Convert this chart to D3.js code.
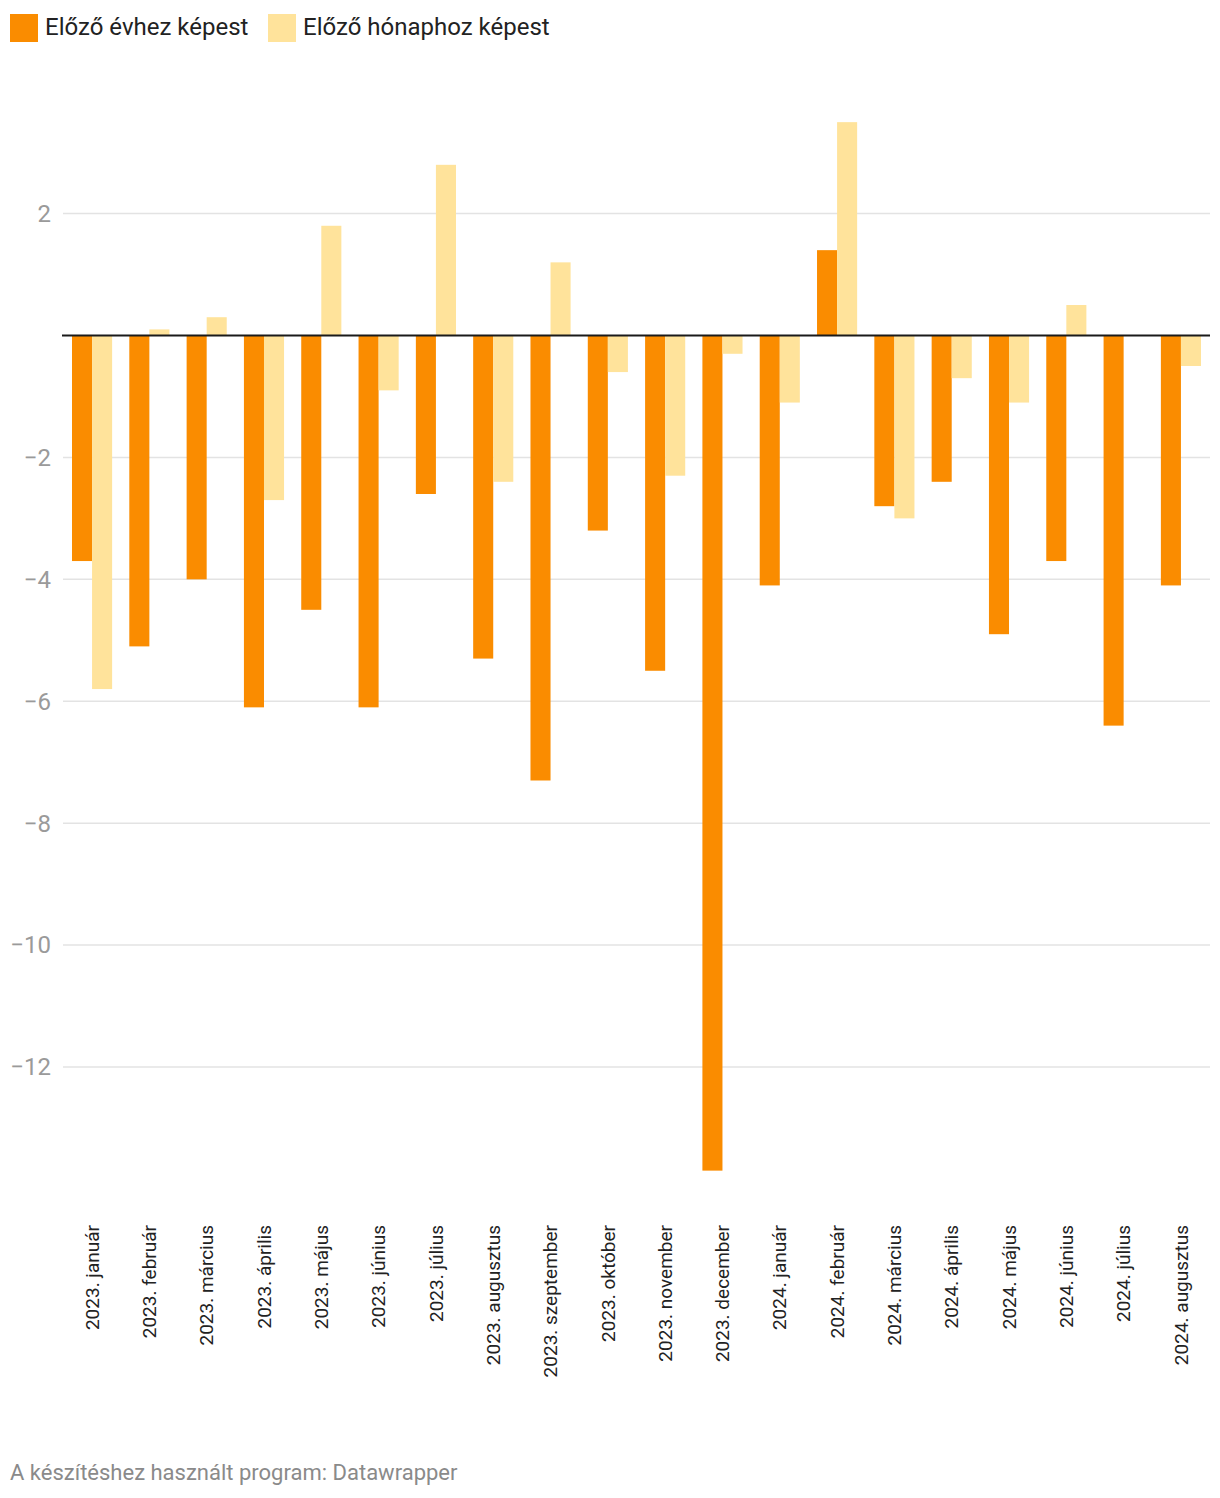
<!DOCTYPE html>
<html><head><meta charset="utf-8">
<script src="https://cdn.jsdelivr.net/npm/d3@7"></script>
<style>
body{margin:0;background:#fff;font-family:Roboto,"Noto Sans",sans-serif;}
</style></head>
<body><svg id="c" width="1220" height="1498"></svg>
<script>
const categories = ["2023. január","2023. február","2023. március","2023. április","2023. május","2023. június","2023. július","2023. augusztus","2023. szeptember","2023. október","2023. november","2023. december","2024. január","2024. február","2024. március","2024. április","2024. május","2024. június","2024. július","2024. augusztus"];
const seriesNames = ["Előző évhez képest","Előző hónaphoz képest"];
const yearOverYear = [-3.7,-5.1,-4.0,-6.1,-4.5,-6.1,-2.6,-5.3,-7.3,-3.2,-5.5,-13.7,-4.1,1.4,-2.8,-2.4,-4.9,-3.7,-6.4,-4.1];
const monthOverMonth = [-5.8,0.1,0.3,-2.7,1.8,-0.9,2.8,-2.4,1.2,-0.6,-2.3,-0.3,-1.1,3.5,-3.0,-0.7,-1.1,0.5,0,-0.5];
const yTicks = [2,0,-2,-4,-6,-8,-10,-12];
const colors = ["#fa8c00","#ffe39b"];

const svg = d3.select("#c");
const y = d3.scaleLinear().domain([0,-12]).range([335.5,1067]);
const x = d3.scaleBand().domain(categories).range([72,1201]).paddingInner(0.3).paddingOuter(0);
const xs = d3.scaleBand().domain([0,1]).range([0,x.bandwidth()]);

// gridlines
const grid = svg.append("g");
yTicks.filter(t=>t!==0).forEach(t=>{
  grid.append("line").attr("x1",63).attr("x2",1210).attr("y1",y(t)).attr("y2",y(t))
    .attr("stroke","#e3e3e3").attr("stroke-width",1.5);
});
// y labels
const fmt = t => t<0 ? "\u2212"+Math.abs(t) : String(t);
yTicks.filter(t=>t!==0).forEach(t=>{
  svg.append("text").attr("x",51).attr("y",y(t)).attr("dy","0.35em")
    .attr("text-anchor","end").attr("font-size",24).attr("fill","#9a9a9a").text(fmt(t));
});

const data = [yearOverYear, monthOverMonth];
data.forEach((vals,si)=>{
  svg.append("g").selectAll("rect").data(vals).enter().append("rect")
    .attr("x",(d,i)=>x(categories[i])+xs(si))
    .attr("width",xs.bandwidth())
    .attr("y",d=>Math.min(y(d),y(0)))
    .attr("height",d=>Math.abs(y(d)-y(0)))
    .attr("fill",colors[si]);
});

// zero line
svg.append("line").attr("x1",62).attr("x2",1210).attr("y1",y(0)).attr("y2",y(0))
  .attr("stroke","#1a1a1a").attr("stroke-width",2);

// x labels
categories.forEach(c=>{
  const cx = x(c)+x.bandwidth()/2;
  svg.append("text").attr("transform",`translate(${cx},1225) rotate(-90)`)
    .attr("dy","0.35em")
    .attr("text-anchor","end").attr("font-size",19).attr("fill","#222").text(c);
});

// legend
const leg = [[10,seriesNames[0]],[268,seriesNames[1]]];
leg.forEach(([lx,name],i)=>{
  svg.append("rect").attr("x",lx).attr("y",14).attr("width",28).attr("height",28).attr("fill",colors[i]);
  svg.append("text").attr("x",lx+35).attr("y",35).attr("font-size",24).attr("fill","#222").text(name);
});

// footer
svg.append("text").attr("x",10).attr("y",1480).attr("font-size",22).attr("fill","#8a8a8a")
  .text("A készítéshez használt program: Datawrapper");
</script>
</body></html>
